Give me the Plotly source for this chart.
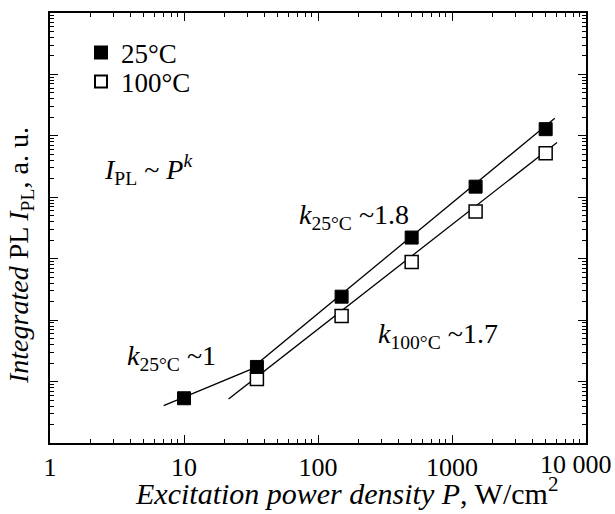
import plotly.graph_objects as go

# Data
x25 = [10, 35, 150, 500, 1500, 5000]
y25 = [5.35, 17.3, 241, 2210, 14900, 128500]
x100 = [35, 150, 500, 1500, 5000]
y100 = [11.0, 117, 887, 5850, 52300]

# Fit lines (end points)
fit_lo_x = [7.05, 35]
fit_lo_y = [4.05, 17.3]
fit25_x = [33, 5850]
fit25_y = [17.4, 194000]
fit100_x = [21.5, 6080]
fit100_y = [5.2, 77800]

xtick_vals = [1, 10, 100, 1000, 10000]
xtick_text = ["1", "10", "100", "1000", "10 000"]
ytick_vals = [10 ** i for i in range(8)]

FONT = "Liberation Serif"
L, R, T, B = 50, 29, 13, 71
W, H = 615, 514
pw, ph = W - L - R, H - T - B


def px(x):
    return (x - L) / pw


def py(y):
    return (H - B - y) / ph


fig = go.Figure()
line_style = dict(color="black", width=1.3)
for lx, ly in [(fit_lo_x, fit_lo_y), (fit25_x, fit25_y), (fit100_x, fit100_y)]:
    fig.add_trace(go.Scatter(x=lx, y=ly, mode="lines", line=line_style,
                             showlegend=False, hoverinfo="skip"))

fig.add_trace(go.Scatter(x=x100, y=y100, mode="markers", name="100°C",
                         legend="legend2",
                         marker=dict(symbol="square", size=13, color="white",
                                     line=dict(color="black", width=1.5))))
fig.add_trace(go.Scatter(x=x25, y=y25, mode="markers", name="25°C",
                         legend="legend",
                         marker=dict(symbol="square", size=13, color="black",
                                     line=dict(color="black", width=1))))

axis_common = dict(
    showline=True, linecolor="black", linewidth=2, mirror="ticks",
    ticks="inside", ticklen=8, tickwidth=1.3, tickcolor="black",
    showgrid=False, zeroline=False, automargin=False,
    minor=dict(ticks="inside", ticklen=4, tickwidth=1.3, tickcolor="black",
               dtick="D1", showgrid=False),
)

# last tick label is drawn as an annotation so it can sit flush with the right edge
axis_ticktext = xtick_text[:-1] + [""]
fig.update_xaxes(type="log", range=[0, 4], tickvals=xtick_vals, ticktext=axis_ticktext,
                 tickfont=dict(family=FONT, size=26, color="black"),
                 ticklabelstandoff=0, **axis_common)
fig.update_yaxes(type="log", range=[0, 7], tickvals=ytick_vals, showticklabels=False,
                 **axis_common)

ann_font = dict(family=FONT, size=28, color="black")
annotations = [
    dict(x=1.0, y=0, text=xtick_text[-1], xanchor="right", yanchor="top",
         xref="paper", yref="paper", xshift=R - 1, yshift=-5,
         font=dict(family=FONT, size=26, color="black")),
    dict(x=px(346), y=py(491), text="<i>Excitation power density P</i>, W/cm<sup>2</sup>",
         xanchor="center", yanchor="middle", font=dict(family=FONT, size=30, color="black")),
    dict(x=px(20), y=py(256), text="<i>Integrated</i> PL <i>I</i><sub>PL</sub>, a. u.",
         textangle=-90, xanchor="center", yanchor="middle",
         font=dict(family=FONT, size=28, color="black")),
    dict(x=px(102), y=py(169), text="<i>I</i><sub>PL</sub> ~ <i>P</i><sup><i>k</i></sup>",
         xanchor="left", yanchor="middle"),
    dict(x=px(297), y=py(216), text="<i>k</i><sub>25°C</sub> ~1.8",
         xanchor="left", yanchor="middle"),
    dict(x=px(376), y=py(335), text="<i>k</i><sub>100°C</sub> ~1.7",
         xanchor="left", yanchor="middle"),
    dict(x=px(125), y=py(357), text="<i>k</i><sub>25°C</sub> ~1",
         xanchor="left", yanchor="middle"),
]
for a in annotations:
    a.setdefault("xref", "paper")
    a.setdefault("yref", "paper")
    a["showarrow"] = False
    a.setdefault("font", ann_font)

leg_common = dict(xanchor="left", yanchor="middle", bgcolor="rgba(0,0,0,0)",
                  font=dict(family=FONT, size=27, color="black"),
                  itemsizing="constant")

fig.update_layout(
    width=W, height=H,
    margin=dict(l=L, r=R, t=T, b=B, autoexpand=False),
    paper_bgcolor="white", plot_bgcolor="white",
    font=dict(family=FONT, size=25, color="black"),
    annotations=annotations,
    showlegend=True,
    legend=dict(x=px(81), y=py(53), **leg_common),
    legend2=dict(x=px(81), y=py(82), **leg_common),
)

fig.write_html("out.html", config={"displayModeBar": False},
               post_script="document.body.style.margin='0';document.body.style.padding='0';")
